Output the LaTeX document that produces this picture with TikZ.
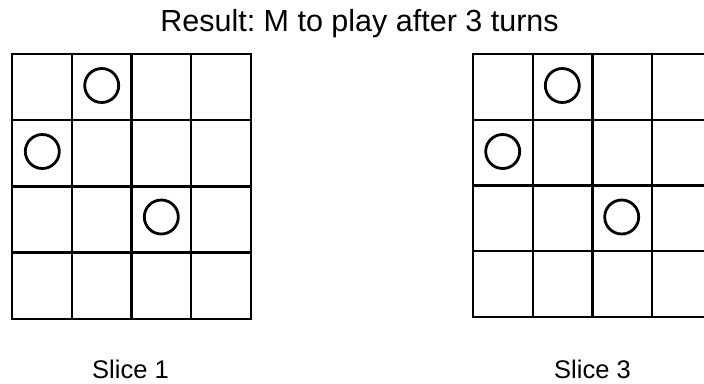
\documentclass[tikz,border=0pt]{standalone}
\usepackage{fontspec}
\setmainfont{Liberation Sans}
\frenchspacing
\begin{document}
\begin{tikzpicture}[x=1pt,y=-1pt,
  gridline/.style={line width=2.3pt,line cap=rect},
  stone/.style={circle,draw,line width=2.8pt,minimum size=34pt,inner sep=0pt},
  titletext/.style={anchor=base,inner sep=0pt,font=\fontsize{30.5}{36}\selectfont},
  slicetext/.style={anchor=base,inner sep=0pt,font=\fontsize{25.5}{30}\selectfont}]
\clip (0,0) rectangle (704,383);
\useasboundingbox (0,0) rectangle (704,383);
\fill[white] (0,0) rectangle (704,383);
% title
\node[titletext] (title) at (359.5,31) {Result: M to play after 3 turns};
% left grid
\foreach \i in {0,...,4} {
  \draw[gridline] ({12+59.7*\i},54) -- ({12+59.7*\i},318.8);
  \draw[gridline] (12,{54+66.2*\i}) -- (250.8,{54+66.2*\i});
}
% right grid
\foreach \i in {0,...,4} {
  \draw[gridline] ({473+59.7*\i},54) -- ({473+59.7*\i},317);
  \draw[gridline] (473,{54+65.75*\i}) -- (711.8,{54+65.75*\i});
}
% stones left
\node[stone] (l1) at (101.7,85.5) {};
\node[stone] (l2) at (42.3,151.5) {};
\node[stone] (l3) at (161.3,217) {};
% stones right
\node[stone] (r1) at (562.3,85.5) {};
\node[stone] (r2) at (502.7,151.5) {};
\node[stone] (r3) at (621.7,217) {};
% labels
\node[slicetext] (s1) at (130.5,378) {Slice 1};
\node[slicetext] (s3) at (592.5,378) {Slice 3};
\end{tikzpicture}
\end{document}
